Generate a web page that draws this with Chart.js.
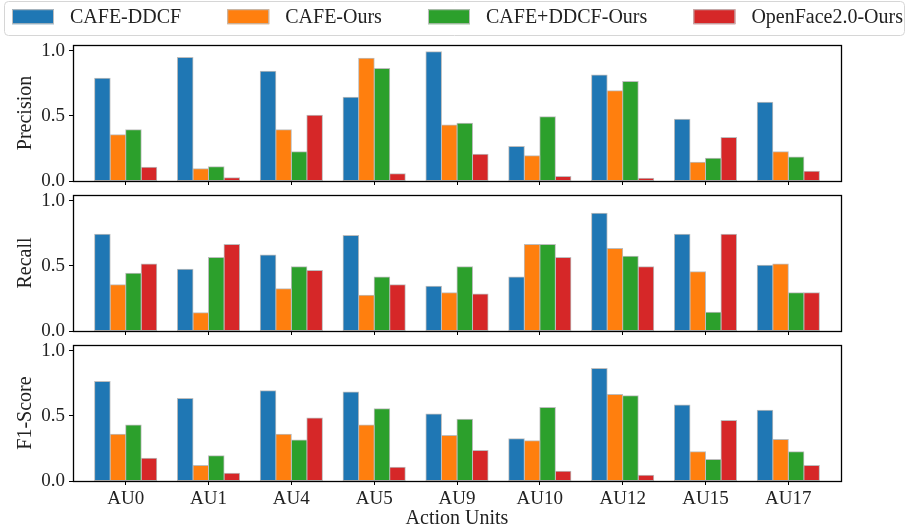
<!DOCTYPE html>
<html>
<head>
<meta charset="utf-8">
<script src="https://cdn.jsdelivr.net/npm/chart.js@4/dist/chart.umd.min.js"></script>
<style>
  html, body { margin: 0; padding: 0; background: #fff; }
  #wrap { position: relative; width: 907px; height: 531px; overflow: hidden; }
  .c { position: absolute; left: 0; }
</style>
</head>
<body>
<div id="wrap">
  <canvas id="c1" class="c" width="907" height="200" style="top:0px"></canvas>
  <canvas id="c2" class="c" width="907" height="180" style="top:170px"></canvas>
  <canvas id="c3" class="c" width="907" height="211" style="top:320px"></canvas>
</div>
<script>
// ---- data ----
const categories = ['AU0', 'AU1', 'AU4', 'AU5', 'AU9', 'AU10', 'AU12', 'AU15', 'AU17'];
const seriesNames = ['CAFE-DDCF', 'CAFE-Ours', 'CAFE+DDCF-Ours', 'OpenFace2.0-Ours'];
const seriesColors = ['#1f77b4', '#ff7f0e', '#2ca02c', '#d62728'];

const precisionCafeDdcf   = [0.79, 0.95, 0.845, 0.645, 0.995, 0.265, 0.815, 0.475, 0.605];
const precisionCafeOurs   = [0.355, 0.095, 0.395, 0.945, 0.43, 0.195, 0.695, 0.145, 0.225];
const precisionCombOurs   = [0.395, 0.11, 0.225, 0.865, 0.445, 0.495, 0.765, 0.175, 0.185];
const precisionOpenFace   = [0.105, 0.025, 0.505, 0.055, 0.205, 0.035, 0.022, 0.335, 0.075];

const recallCafeDdcf      = [0.745, 0.475, 0.585, 0.735, 0.345, 0.415, 0.905, 0.745, 0.505];
const recallCafeOurs      = [0.355, 0.14, 0.325, 0.275, 0.295, 0.665, 0.635, 0.455, 0.515];
const recallCombOurs      = [0.445, 0.565, 0.495, 0.415, 0.495, 0.665, 0.575, 0.145, 0.295];
const recallOpenFace      = [0.515, 0.665, 0.465, 0.355, 0.285, 0.565, 0.495, 0.745, 0.295];

const f1CafeDdcf          = [0.765, 0.635, 0.695, 0.685, 0.515, 0.325, 0.865, 0.585, 0.545];
const f1CafeOurs          = [0.36, 0.12, 0.36, 0.43, 0.35, 0.31, 0.665, 0.225, 0.32];
const f1CombOurs          = [0.43, 0.195, 0.315, 0.555, 0.475, 0.565, 0.655, 0.165, 0.225];
const f1OpenFace          = [0.175, 0.06, 0.485, 0.105, 0.235, 0.075, 0.045, 0.465, 0.12];

const yTickValues = [0.0, 0.5, 1.0];
const yTitles = ['Precision', 'Recall', 'F1-Score'];
const xTitle = 'Action Units';

// ---- styling ----
const FONT = "'Liberation Serif', 'Times New Roman', serif";
const TXT = '#222';

function makeDatasets(arrs) {
  return arrs.map((vals, s) => ({
    label: seriesNames[s],
    data: vals.map((v, i) => ({ x: i, y: v })),
    backgroundColor: seriesColors[s],
    borderColor: '#bdbdbd',
    borderWidth: 1,
    borderSkipped: false,
    inflateAmount: 0.5,
    categoryPercentage: 0.75,
    barPercentage: 1.0
  }));
}

const frameBox = {
  id: 'frameBox',
  afterDatasetsDraw(chart) {
    const a = chart.chartArea, ctx = chart.ctx;
    ctx.save();
    ctx.strokeStyle = '#000';
    ctx.lineWidth = 1.3;
    ctx.strokeRect(Math.round(a.left) + 0.5, Math.round(a.top) + 0.5,
                   Math.round(a.right - a.left), Math.round(a.bottom - a.top));
    ctx.restore();
  }
};

// Legend drawn from the chart's own datasets, laid out like matplotlib's "expand" mode
const expandLegend = {
  id: 'expandLegend',
  afterDraw(chart, args, o) {
    if (!o.show) return;
    const ctx = chart.ctx;
    // frame
    const x = 4.5, y = 1.5, w = 900, h = 34, r = 4;
    ctx.save();
    ctx.strokeStyle = '#d6d6d6';
    ctx.lineWidth = 1;
    ctx.beginPath();
    ctx.moveTo(x + r, y);
    ctx.arcTo(x + w, y, x + w, y + h, r);
    ctx.arcTo(x + w, y + h, x, y + h, r);
    ctx.arcTo(x, y + h, x, y, r);
    ctx.arcTo(x, y, x + w, y, r);
    ctx.closePath();
    ctx.stroke();
    // items
    ctx.font = "20px " + FONT;
    ctx.textBaseline = 'middle';
    ctx.textAlign = 'left';
    const sw = 42, sh = 15, gapText = 16;
    const ds = chart.data.datasets;
    const widths = ds.map(d => sw + gapText + ctx.measureText(d.label).width);
    const x0 = 12, x1 = 903;
    const gap = (x1 - x0 - widths.reduce((a, b) => a + b, 0)) / (ds.length - 1);
    let cx = x0;
    const cy = 16.7;
    ds.forEach((d, i) => {
      ctx.fillStyle = d.backgroundColor;
      ctx.fillRect(cx, cy - sh / 2, sw, sh);
      ctx.strokeStyle = '#bdbdbd';
      ctx.strokeRect(cx + 0.5, cy - sh / 2 + 0.5, sw - 1, sh - 1);
      ctx.fillStyle = TXT;
      ctx.fillText(d.label, cx + sw + gapText, cy + 1);
      cx += widths[i] + gap;
    });
    ctx.restore();
  }
};

function makeChart(id, arrs, yTitle, opts) {
  const showLabels = opts.showLabels;
  return new Chart(document.getElementById(id), {
    type: 'bar',
    data: { datasets: makeDatasets(arrs) },
    options: {
      responsive: false,
      animation: false,
      devicePixelRatio: 1,
      layout: { padding: { top: opts.padTop, left: 0, right: 0, bottom: 0 } },
      plugins: {
        legend: { display: false },
        tooltip: { enabled: false },
        expandLegend: { show: !!opts.legend }
      },
      scales: {
        x: {
          type: 'linear',
          position: 'bottom',
          offset: false,
          min: -0.636, max: 8.636,
          afterBuildTicks: s => { s.ticks = categories.map((c, i) => ({ value: i })); },
          afterFit: s => { s.height = opts.xHeight; },
          ticks: {
            display: showLabels,
            autoSkip: false,
            maxRotation: 0,
            padding: 3,
            color: TXT,
            font: { family: FONT, size: 19 },
            callback: v => categories[v]
          },
          grid: { display: true, offset: false, drawOnChartArea: false, drawTicks: true, tickLength: 4, color: '#000', lineWidth: 1 },
          border: { display: false },
          title: {
            display: showLabels,
            text: xTitle,
            color: TXT,
            font: { family: FONT, size: 20 },
            padding: { top: 0, bottom: 0 }
          }
        },
        y: {
          position: 'left',
          min: 0, max: 1.046,
          stacked: false,
          afterBuildTicks: s => { s.ticks = yTickValues.map(v => ({ value: v })); },
          afterFit: s => { s.width = 73; },
          ticks: {
            padding: 4,
            color: TXT,
            font: { family: FONT, size: 19 },
            callback: v => Number(v).toFixed(1)
          },
          grid: { display: true, drawOnChartArea: false, drawTicks: true, tickLength: 4, color: '#000', lineWidth: 1 },
          border: { display: false },
          title: {
            display: true,
            text: yTitle,
            color: TXT,
            font: { family: FONT, size: 20 },
            padding: { top: 14, bottom: 0 }
          }
        },
        yr: {
          position: 'right',
          display: true,
          afterFit: s => { s.width = 66; },
          ticks: { display: false },
          grid: { display: false },
          border: { display: false }
        }
      }
    },
    plugins: [frameBox, expandLegend]
  });
}

makeChart('c1', [precisionCafeDdcf, precisionCafeOurs, precisionCombOurs, precisionOpenFace], yTitles[0],
  { padTop: 45, xHeight: 19, legend: true, showLabels: false });
makeChart('c2', [recallCafeDdcf, recallCafeOurs, recallCombOurs, recallOpenFace], yTitles[1],
  { padTop: 25, xHeight: 19, legend: false, showLabels: false });
makeChart('c3', [f1CafeDdcf, f1CafeOurs, f1CombOurs, f1OpenFace], yTitles[2],
  { padTop: 25, xHeight: 50, legend: false, showLabels: true });
</script>
</body>
</html>
